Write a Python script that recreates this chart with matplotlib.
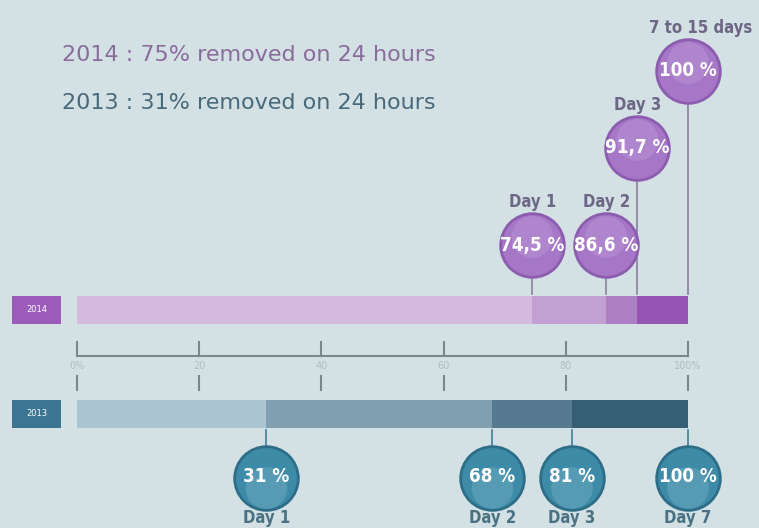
import matplotlib.pyplot as plt
from matplotlib import font_manager
from matplotlib.font_manager import FontProperties

# data
seg_2014 = [74.5, 86.6, 91.7, 100]
lbl_2014 = ["74,5 %", "86,6 %", "91,7 %", "100 %"]
day_2014 = ["Day 1", "Day 2", "Day 3", "7 to 15 days"]
col_2014 = ["#d5badf", "#c2a0d2", "#ad80c5", "#9456b2"]

seg_2013 = [31, 68, 81, 100]
lbl_2013 = ["31 %", "68 %", "81 %", "100 %"]
day_2013 = ["Day 1", "Day 2", "Day 3", "Day 7"]
col_2013 = ["#abc4d1", "#809fb1", "#567b90", "#365e75"]

ticks = [0, 20, 40, 60, 80, 100]
tick_labels = ["0%", "20", "40", "60", "80", "100%"]

# look for a condensed bold face for the balloon numbers
cond = None
for f in font_manager.fontManager.ttflist:
    nm = (f.name + " " + str(f.stretch) + " " + f.fname).lower()
    if ("condensed" in nm or "narrow" in nm) and f.weight in ("bold", 700):
        cond = f.fname
        break
if cond:
    num_fp = FontProperties(fname=cond, size=13.5)
    day_fp = FontProperties(fname=cond, size=12)
else:
    num_fp = FontProperties(family="DejaVu Sans", weight="bold", size=11.5)
    day_fp = FontProperties(family="DejaVu Sans", weight="bold", size=10.5)

bg = "#d3e0e4"
fig = plt.figure(figsize=(7.59, 5.28), dpi=100, facecolor=bg)
ax = fig.add_axes([0, 0, 1, 1])
ax.set_facecolor(bg)
# x in percent (0% at px 77, 100% at px 688), y in pixels from top
ax.set_xlim(-77 / 6.11, (759 - 77) / 6.11)
ax.set_ylim(528, 0)
ax.axis("off")

y14, y13, h = 310, 414, 28

# bars
left = 0
for v, c in zip(seg_2014, col_2014):
    ax.barh(y14, v - left, left=left, height=h, color=c, edgecolor="none")
    left = v
left = 0
for v, c in zip(seg_2013, col_2013):
    ax.barh(y13, v - left, left=left, height=h, color=c, edgecolor="none")
    left = v

# year boxes
ax.barh(y14, 8, left=-10.6, height=h, color="#9b5cb9")
ax.text(-6.6, y14, "2014", color="white", fontsize=6, ha="center", va="center")
ax.barh(y13, 8, left=-10.6, height=h, color="#3b7592")
ax.text(-6.6, y13, "2013", color="white", fontsize=6, ha="center", va="center")

# axis
ax.plot([0, 100], [356, 356], color="#7d868b", lw=1.5)
for t, tl in zip(ticks, tick_labels):
    ax.plot([t, t], [342, 356], color="#7d868b", lw=1.5)
    ax.plot([t, t], [376, 390], color="#7d868b", lw=1.5)
    ax.text(t, 366, tl, color="#b3bdc1", fontsize=7, ha="center", va="center")

# 2014 balloons
cy14 = [245, 245, 148, 71]
for v, cy, l, d in zip(seg_2014, cy14, lbl_2014, day_2014):
    ax.plot([v, v], [cy + 30, 294], color="#8a7f9e", lw=1.2, zorder=1)
    ax.scatter([v], [cy], s=2100, color="#a577c6", edgecolor="#8c5cae", lw=2, zorder=3)
    ax.scatter([v], [cy - 8], s=900, color="#b690d2", edgecolor="none", alpha=0.6, zorder=3)
    ax.text(v, cy, l, color="white", fontproperties=num_fp,
            ha="center", va="center", zorder=4)
    dx = 2 if d.startswith("7") else 0
    ax.text(v + dx, cy - 43, d, color="#6e6686", fontproperties=day_fp,
            ha="center", va="center")

# 2013 balloons
for v, l, d in zip(seg_2013, lbl_2013, day_2013):
    ax.plot([v, v], [430, 450], color="#3f7e98", lw=1.2, zorder=1)
    ax.scatter([v], [478], s=2100, color="#3e8ba8", edgecolor="#2d6d88", lw=2, zorder=3)
    ax.scatter([v], [488], s=900, color="#6fa9bf", edgecolor="none", alpha=0.5, zorder=3)
    ax.text(v, 477, l, color="white", fontproperties=num_fp,
            ha="center", va="center", zorder=4)
    ax.text(v, 518, d, color="#4b7282", fontproperties=day_fp,
            ha="center", va="center")

# headline texts
ax.text(-2.4, 55, "2014 : 75% removed on 24 hours", color="#8a6c9c", fontsize=16,
        ha="left", va="center")
ax.text(-2.4, 103, "2013 : 31% removed on 24 hours", color="#47697a", fontsize=16,
        ha="left", va="center")

fig.savefig("out.png", dpi=100, facecolor=bg)
